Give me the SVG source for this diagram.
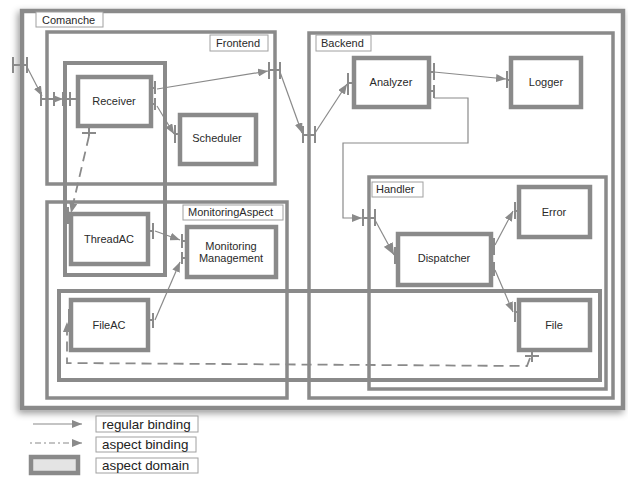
<svg xmlns="http://www.w3.org/2000/svg" width="628" height="477" viewBox="0 0 628 477">
<defs>
<style>
.dom{fill:none;stroke:#8a8a8a;stroke-width:4}
.cont{fill:none;stroke:#8a8a8a;stroke-width:3.5}
.comp{fill:#fff;stroke:#8a8a8a;stroke-width:4.5}
.lbl{fill:#fff;stroke:#a0a0a0;stroke-width:1}
.t{font-family:"Liberation Sans",Arial,sans-serif;font-size:11px;fill:#2a2a2a;text-anchor:middle}
.lt{font-family:"Liberation Sans",Arial,sans-serif;font-size:11px;fill:#2a2a2a}
.gt{font-family:"Liberation Sans",Arial,sans-serif;font-size:13.4px;fill:#222}
.port{fill:none;stroke:#8a8a8a;stroke-width:2}
.bind{fill:none;stroke:#8a8a8a;stroke-width:1.2}
.asp{fill:none;stroke:#8a8a8a;stroke-width:1.8;stroke-dasharray:10,6}
</style>
<marker id="ah" viewBox="0 0 10 8" refX="10" refY="4" markerWidth="10" markerHeight="8" markerUnits="userSpaceOnUse" orient="auto">
<path d="M0,0 L10,4 L0,8 z" fill="#8a8a8a"/>
</marker>
<marker id="ah2" viewBox="0 0 12 10" refX="12" refY="5" markerWidth="12" markerHeight="10" markerUnits="userSpaceOnUse" orient="auto">
<path d="M0,0 L12,5 L0,10 z" fill="#8a8a8a"/>
</marker>
<filter id="sh" x="-5%" y="-5%" width="110%" height="112%">
<feDropShadow dx="-2" dy="3" stdDeviation="3.5" flood-color="#000" flood-opacity="0.4"/>
</filter>
</defs>
<rect width="628" height="477" fill="#fff"/>

<g id="Comanche">
<rect x="22" y="11" width="601" height="397" fill="#fff" stroke="#8a8a8a" stroke-width="4.5" filter="url(#sh)"/>
<rect class="lbl" x="36" y="12" width="67" height="15"/>
<text class="lt" x="42" y="24">Comanche</text>
</g>

<g id="Frontend">
<rect class="cont" x="47" y="32" width="228" height="152"/>
<rect class="lbl" x="210" y="35" width="58" height="16"/>
<text class="lt" x="216" y="47">Frontend</text>
</g>

<g id="Backend">
<rect class="cont" x="309" y="33" width="304" height="365"/>
<rect class="lbl" x="316" y="35" width="55" height="16"/>
<text class="lt" x="321" y="47">Backend</text>
</g>

<g id="MonitoringAspect">
<rect class="cont" x="47" y="202" width="240" height="196"/>
<rect class="lbl" x="183" y="205" width="100" height="15"/>
<text class="lt" x="188" y="216">MonitoringAspect</text>
</g>

<g id="Handler">
<rect class="cont" x="369" y="177" width="237" height="212"/>
<rect class="lbl" x="372" y="182" width="51" height="15"/>
<text class="lt" x="376" y="193">Handler</text>
</g>

<g id="ThreadDomain">
<rect class="dom" x="65" y="63" width="100" height="212"/>
</g>

<g id="FileDomain">
<rect class="dom" x="59" y="291" width="541" height="89"/>
</g>

<g id="Receiver">
<rect class="comp" x="78" y="77" width="73" height="49"/>
<text class="t" x="114" y="105">Receiver</text>
</g>
<g id="Scheduler">
<rect class="comp" x="180" y="115" width="76" height="49"/>
<text class="t" x="217" y="142">Scheduler</text>
</g>
<g id="Analyzer">
<rect class="comp" x="354" y="58" width="75" height="49"/>
<text class="t" x="391" y="86">Analyzer</text>
</g>
<g id="Logger">
<rect class="comp" x="511" y="58" width="70" height="49"/>
<text class="t" x="546" y="86">Logger</text>
</g>
<g id="Error">
<rect class="comp" x="519" y="187" width="71" height="50"/>
<text class="t" x="554" y="216">Error</text>
</g>
<g id="Dispatcher">
<rect class="comp" x="398" y="234" width="93" height="51"/>
<text class="t" x="444" y="262">Dispatcher</text>
</g>
<g id="File">
<rect class="comp" x="519" y="300" width="71" height="50"/>
<text class="t" x="554" y="329">File</text>
</g>
<g id="ThreadAC">
<rect class="comp" x="71" y="214" width="77" height="50"/>
<text class="t" x="109" y="243">ThreadAC</text>
</g>
<g id="MonitoringManagement">
<rect class="comp" x="187" y="227" width="89" height="50"/>
<text class="t" x="231" y="250">Monitoring</text>
<text class="t" x="231" y="262">Management</text>
</g>
<g id="FileAC">
<rect class="comp" x="71" y="300" width="77" height="50"/>
<text class="t" x="109" y="329">FileAC</text>
</g>

<g id="connectors">
<g id="ports">
<path class="port" d="M13,57 V73 M27,57 V73 M13,65 H27"/>
<path class="port" d="M41,92 V106 M54,92 V106 M41,99 H54"/>
<path class="port" d="M63,92 V106 M70,92 V106 M63,99 H78"/>
<path class="port" d="M151,88 H155 M155,81 V94 M151,104 H155 M155,98 V110"/>
<path class="port" d="M175,125 V143 M175,134 H180"/>
<path class="port" d="M269,62 V79 M280,62 V79 M269,70 H280"/>
<path class="port" d="M303,126 V143 M315,126 V143 M303,135 H315"/>
<path class="port" d="M348,73 V95 M348,83 H354"/>
<path class="port" d="M429,72 H434 M434,63 V80 M429,91 H434 M434,85 V98"/>
<path class="port" d="M507,71 V88 M507,80 H511"/>
<path class="port" d="M363,209 V226 M375,209 V226 M363,218 H375"/>
<path class="port" d="M395,247 V264 M395,256 H398"/>
<path class="port" d="M491,246 H494 M494,238 V255 M491,268 H494 M494,262 V276"/>
<path class="port" d="M515,202 V219 M515,211 H519"/>
<path class="port" d="M515,302 V322 M515,312 H519"/>
<path class="port" d="M532,350 V362 M525,356 H539"/>
<path class="port" d="M89,126 V136 M82,133 H96"/>
<path class="port" d="M68,207 V224 M68,215 H71"/>
<path class="port" d="M148,231 H153 M153,223 V239"/>
<path class="port" d="M182,234 V248 M182,241 H187 M182,252 V264 M182,258 H187"/>
<path class="port" d="M148,320 H153 M153,313 V328"/>
<path class="port" d="M69,309 V331 M69,320 H71"/>
</g>
<line class="bind" x1="27" y1="67" x2="42" y2="96" marker-end="url(#ah)"/>
<line class="bind" x1="54" y1="99" x2="63" y2="99" marker-end="url(#ah)"/>
<line class="bind" x1="157" y1="89" x2="268" y2="71" marker-end="url(#ah)"/>
<line class="bind" x1="157" y1="106" x2="174" y2="134" marker-end="url(#ah)"/>
<line class="bind" x1="280" y1="72" x2="302" y2="133" marker-end="url(#ah)"/>
<line class="bind" x1="315" y1="133" x2="347" y2="84" marker-end="url(#ah)"/>
<line class="bind" x1="434" y1="72" x2="506" y2="79" marker-end="url(#ah)"/>
<path class="bind" d="M434,98 H468 V143 H343 V218 H362" marker-end="url(#ah)"/>
<line class="bind" x1="375" y1="220" x2="394" y2="255" stroke-width="2.8" marker-end="url(#ah2)"/>
<line class="bind" x1="495" y1="245" x2="513" y2="211" marker-end="url(#ah)"/>
<line class="bind" x1="495" y1="270" x2="513" y2="312" marker-end="url(#ah)"/>
<line class="bind" x1="155" y1="231" x2="180" y2="240" marker-end="url(#ah)"/>
<line class="bind" x1="155" y1="320" x2="180" y2="262" marker-end="url(#ah)"/>
<path class="asp" d="M89,136 L71,213" marker-end="url(#ah)"/>
<path class="asp" d="M530,358 L527,366 L67,363 V322" marker-end="url(#ah)"/>
</g>

<g id="legend">
<line class="bind" x1="33" y1="424" x2="82" y2="424" marker-end="url(#ah)"/>
<rect class="lbl" x="96" y="416" width="102" height="16"/>
<text class="gt" x="102" y="429">regular binding</text>
<line class="bind" x1="30" y1="443" x2="82" y2="443" stroke-dasharray="2,3,6,3" marker-end="url(#ah)"/>
<rect class="lbl" x="96" y="437" width="100" height="15"/>
<text class="gt" x="102" y="449">aspect binding</text>
<rect x="31" y="457" width="47" height="16" fill="#e4e4e4" stroke="#8a8a8a" stroke-width="4.5"/>
<rect class="lbl" x="96" y="458" width="102" height="15"/>
<text class="gt" x="102" y="470">aspect domain</text>
</g>
</svg>
